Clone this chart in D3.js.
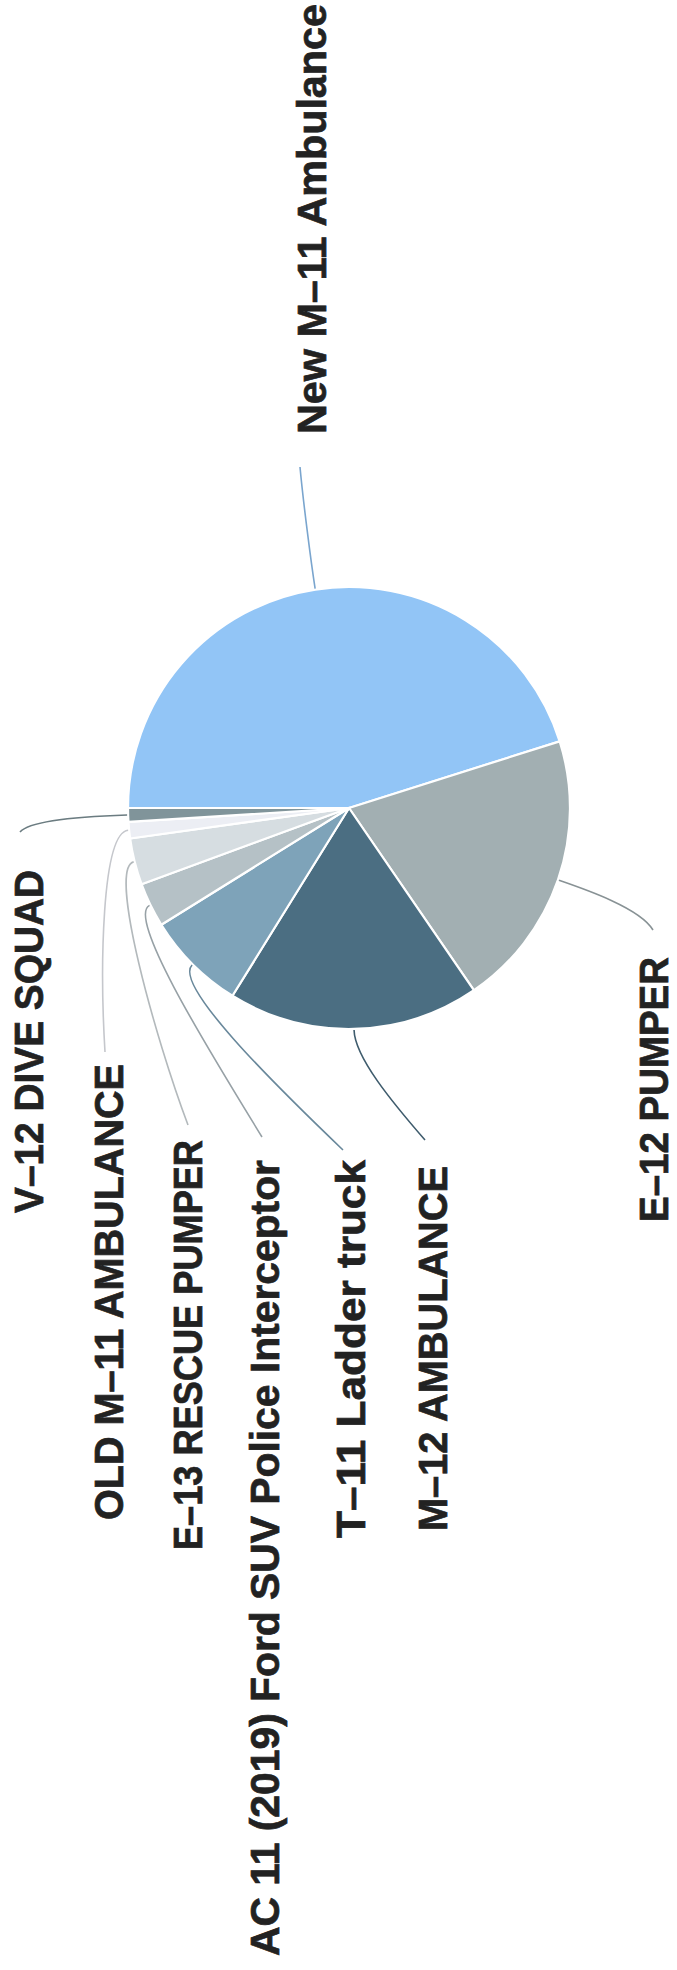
<!DOCTYPE html>
<html>
<head>
<meta charset="utf-8">
<script src="https://cdn.jsdelivr.net/npm/d3@7"></script>
<style>
  body { margin: 0; background: #fff; }
  text { font-family: "Liberation Sans", Arial, sans-serif; font-weight: bold; }
</style>
</head>
<body>
<svg id="chart" width="677" height="1970"></svg>
<script>
// data (share of total, in %)
const categories = [
    "New M–11 Ambulance",
    "E–12 PUMPER",
    "M–12 AMBULANCE",
    "T–11 Ladder truck",
    "AC 11 (2019) Ford SUV Police Interceptor",
    "E–13 RESCUE PUMPER",
    "OLD M–11 AMBULANCE",
    "V–12 DIVE SQUAD"
];
const values = [45.1, 20.3, 18.4, 7.3, 3.25, 3.4, 1.2, 1.0];

const palette = ["#92c5f6", "#a2afb2", "#4b6e82", "#7ea3b9", "#b5c1c6", "#d6dde1", "#eceef4", "#80949a"];

// layout: where each label sits on the page (baseline x, bottom y, length)
const labelPos = [
    [326, 434, 430],
    [668, 1222, 265],
    [447, 1531, 365],
    [365, 1538, 378],
    [279, 1956, 796],
    [202, 1550, 410],
    [123, 1520, 456],
    [43, 1213, 343]
];
// leader end points and the control point just before them
const leaderEnd = [
    [[300, 467], [303, 500]],
    [[653, 930], [640, 908]],
    [[425, 1140], [392, 1102]],
    [[343, 1150], [272, 1082]],
    [[262, 1137], [215, 1060]],
    [[188, 1125], [156, 1040]],
    [[105, 1052], [100, 970]],
    [[20, 832], [32, 818]]
];

const cx = 349, cy = 808, radius = 221;
const svg = d3.select("#chart");

const pie = d3.pie().sort(null).value(d => d)(values);
const arc = d3.arc().innerRadius(0).outerRadius(radius);

// the scan is turned a quarter left, so the pie's 12 o'clock sits at 9 o'clock
const pieG = svg.append("g").attr("transform", `translate(${cx},${cy}) rotate(-90)`);

pieG.selectAll("path")
    .data(pie)
    .enter()
    .append("path")
    .attr("d", arc)
    .attr("fill", (d, i) => palette[i])
    .attr("stroke", "#fff")
    .attr("stroke-width", 2.2)
    .attr("stroke-linejoin", "round");

// point on the rim, in page coordinates
const rim = (a, r) => [cx - r * Math.cos(a), cy - r * Math.sin(a)];

pie.forEach((d, i) => {
    const mid = (d.startAngle + d.endAngle) / 2;
    const s = rim(mid, radius + 1);
    const c1 = rim(mid, radius + 28);
    const [e, c2] = leaderEnd[i];
    const p = d3.path();
    p.moveTo(s[0], s[1]);
    p.bezierCurveTo(c1[0], c1[1], c2[0], c2[1], e[0], e[1]);
    svg.append("path")
        .attr("d", p.toString())
        .attr("fill", "none")
        .attr("stroke", d3.color(palette[i]).darker(0.5))
        .attr("stroke-width", 1.6);
});

categories.forEach((name, i) => {
    const [x, y, len] = labelPos[i];
    svg.append("text")
        .attr("transform", `translate(${x},${y}) rotate(-90)`)
        .attr("font-size", 41)
        .attr("fill", "#222")
        .attr("stroke", "#222")
        .attr("stroke-width", 0.7)
        .attr("textLength", len)
        .attr("lengthAdjust", "spacingAndGlyphs")
        .text(name);
});
</script>
</body>
</html>
